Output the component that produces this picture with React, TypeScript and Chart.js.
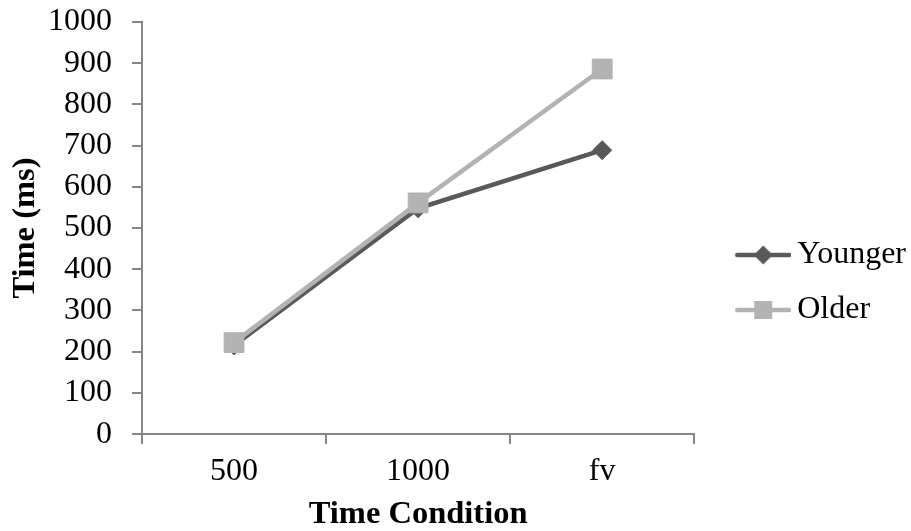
import React, { useEffect, useRef } from 'react';
import { Chart, registerables } from 'chart.js';

Chart.register(...registerables);

const categories = ['500', '1000', 'fv'];
const youngerValues = [215, 548, 689];
const olderValues = [222, 561, 886];
const seriesNames = ['Younger', 'Older'];
const yMin = 0;
const yMax = 1000;
const yStep = 100;
const xTitle = 'Time Condition';
const yTitle = 'Time (ms)';

const YOUNGER_COLOR = '#595959';
const OLDER_COLOR = '#b3b3b3';
const AXIS_COLOR = '#868686';
const FONT = "'Liberation Serif', 'Times New Roman', serif";

function makeLegendIcon(color: string, shape: 'diamond' | 'square'): HTMLCanvasElement {
  const c = document.createElement('canvas');
  c.width = 84;
  c.height = 26;
  const ctx = c.getContext('2d')!;
  const cy = 13;
  ctx.strokeStyle = color;
  ctx.lineWidth = 4.5;
  ctx.lineCap = 'round';
  ctx.beginPath();
  ctx.moveTo(30, cy);
  ctx.lineTo(82, cy);
  ctx.stroke();
  ctx.fillStyle = color;
  const mx = 56;
  if (shape === 'diamond') {
    const r = 9.5;
    ctx.beginPath();
    ctx.moveTo(mx, cy - r);
    ctx.lineTo(mx + r, cy);
    ctx.lineTo(mx, cy + r);
    ctx.lineTo(mx - r, cy);
    ctx.closePath();
    ctx.fill();
  } else {
    const s = 18;
    ctx.fillRect(mx - s / 2, cy - s / 2, s, s);
  }
  return c;
}

export default function App() {
  const canvasRef = useRef<HTMLCanvasElement | null>(null);

  useEffect(() => {
    if (!canvasRef.current) return;
    const icons = [makeLegendIcon(YOUNGER_COLOR, 'diamond'), makeLegendIcon(OLDER_COLOR, 'square')];
    const chart = new Chart(canvasRef.current, {
      type: 'line',
      data: {
        labels: categories,
        datasets: [
          {
            label: seriesNames[0],
            data: youngerValues,
            borderColor: YOUNGER_COLOR,
            backgroundColor: YOUNGER_COLOR,
            borderWidth: 4.5,
            pointStyle: 'rectRot',
            pointRadius: 9.5,
            pointBorderWidth: 1,
            pointBackgroundColor: YOUNGER_COLOR,
            pointBorderColor: YOUNGER_COLOR,
            tension: 0,
            order: 1,
          },
          {
            label: seriesNames[1],
            data: olderValues,
            borderColor: OLDER_COLOR,
            backgroundColor: OLDER_COLOR,
            borderWidth: 4.5,
            pointStyle: 'rect',
            pointRadius: 14,
            pointBorderWidth: 1,
            pointBackgroundColor: OLDER_COLOR,
            pointBorderColor: OLDER_COLOR,
            tension: 0,
            order: 0,
          },
        ],
      },
      options: {
        responsive: false,
        animation: false,
        devicePixelRatio: 1,
        layout: { padding: { left: 6, top: 22, right: -5, bottom: 0 } },
        plugins: {
          tooltip: { enabled: false },
          legend: {
            position: 'right',
            align: 'center',
            title: { display: true, text: '', font: { size: 12, lineHeight: 1 }, padding: 0 },
            labels: {
              usePointStyle: true,
              pointStyleWidth: 64,
              padding: 23,
              color: '#000',
              font: { family: FONT, size: 32 },
              sort: (a: any, b: any) => a.datasetIndex - b.datasetIndex,
              generateLabels: (ch: any) => {
                const items = Chart.defaults.plugins.legend.labels.generateLabels(ch);
                return items.map((it: any) => ({ ...it, pointStyle: icons[it.datasetIndex], fontColor: '#000' }));
              },
            },
          },
        },
        scales: {
          x: {
            type: 'category',
            offset: true,
            grid: {
              offset: true,
              drawOnChartArea: false,
              drawTicks: true,
              tickLength: 10,
              color: AXIS_COLOR,
              lineWidth: 2,
            },
            border: { display: true, color: AXIS_COLOR, width: 2 },
            ticks: {
              color: '#000',
              padding: 8,
              font: { family: FONT, size: 32, lineHeight: 1.2 },
              maxRotation: 0,
              autoSkip: false,
            },
            title: {
              display: true,
              text: xTitle,
              color: '#000',
              font: { family: FONT, size: 32.5, weight: 'bold', lineHeight: 1 },
              padding: { top: 0, bottom: 0 },
            },
          },
          y: {
            min: yMin,
            max: yMax,
            grid: {
              drawOnChartArea: false,
              drawTicks: true,
              tickLength: 10,
              color: AXIS_COLOR,
              lineWidth: 2,
            },
            border: { display: true, color: AXIS_COLOR, width: 2 },
            ticks: {
              stepSize: yStep,
              autoSkip: false,
              color: '#000',
              padding: 20,
              font: { family: FONT, size: 32, lineHeight: 0.1 },
              callback: (v: any) => String(v),
            },
            title: {
              display: true,
              text: yTitle,
              color: '#000',
              font: { family: FONT, size: 32.5, weight: 'bold', lineHeight: 1 },
              padding: { top: 3.75, bottom: -14.25 },
            },
          },
        },
      },
    });
    return () => chart.destroy();
  }, []);

  return (
    <div style={{ position: 'absolute', left: 0, top: 0, width: 911, height: 531, background: '#fff' }}>
      <canvas ref={canvasRef} width={911} height={531} style={{ width: 911, height: 531, display: 'block' }} />
    </div>
  );
}
